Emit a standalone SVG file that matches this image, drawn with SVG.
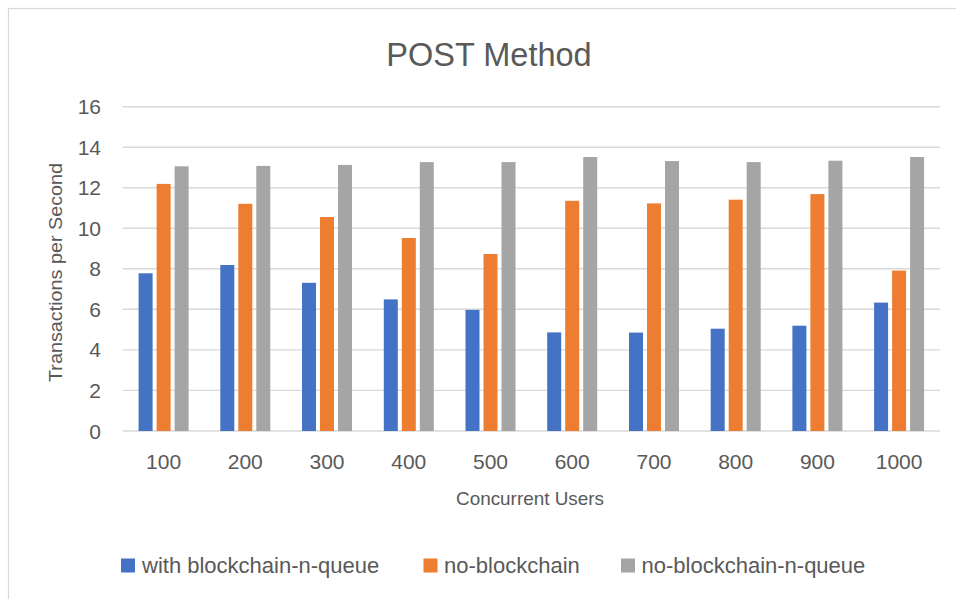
<svg xmlns="http://www.w3.org/2000/svg" width="956" height="599" viewBox="0 0 956 599">
<style>
  text { font-family: "Liberation Sans", Arial, sans-serif; fill: #595959; }
  .grid { stroke: #D9D9D9; stroke-width: 1.4; fill: none; }
  .ytick { font-size: 21px; text-anchor: end; }
  .xtick { font-size: 21px; text-anchor: middle; }
  .legend { font-size: 22px; }
  .s1 { fill: #4472C4; }
  .s2 { fill: #ED7D31; }
  .s3 { fill: #A5A5A5; }
</style>
<rect x="0" y="0" width="956" height="599" fill="#FFFFFF"/>
<rect x="8.5" y="8.5" width="960" height="610" fill="#FFFFFF" stroke="#D9D9D9" stroke-width="1.2"/>

<g id="title">
  <text x="489" y="66" font-size="32.5" text-anchor="middle">POST Method</text>
</g>

<g id="gridlines">
  <line class="grid" x1="122.7" y1="106.7" x2="940" y2="106.7"/>
  <line class="grid" x1="122.7" y1="147.2" x2="940" y2="147.2"/>
  <line class="grid" x1="122.7" y1="187.7" x2="940" y2="187.7"/>
  <line class="grid" x1="122.7" y1="228.3" x2="940" y2="228.3"/>
  <line class="grid" x1="122.7" y1="268.8" x2="940" y2="268.8"/>
  <line class="grid" x1="122.7" y1="309.3" x2="940" y2="309.3"/>
  <line class="grid" x1="122.7" y1="349.9" x2="940" y2="349.9"/>
  <line class="grid" x1="122.7" y1="390.4" x2="940" y2="390.4"/>
  <line class="grid" x1="122.7" y1="431" x2="940" y2="431"/>
</g>

<g id="y-axis">
  <text class="ytick" x="101" y="114.2">16</text>
  <text class="ytick" x="101" y="154.7">14</text>
  <text class="ytick" x="101" y="195.2">12</text>
  <text class="ytick" x="101" y="235.8">10</text>
  <text class="ytick" x="101" y="276.3">8</text>
  <text class="ytick" x="101" y="316.8">6</text>
  <text class="ytick" x="101" y="357.4">4</text>
  <text class="ytick" x="101" y="397.9">2</text>
  <text class="ytick" x="101" y="438.5">0</text>
  <text transform="translate(62,272.5) rotate(-90)" font-size="18" text-anchor="middle" textLength="219" lengthAdjust="spacingAndGlyphs">Transactions per Second</text>
</g>

<g id="x-axis">
  <text class="xtick" x="163.6" y="469.3">100</text>
  <text class="xtick" x="245.3" y="469.3">200</text>
  <text class="xtick" x="327.0" y="469.3">300</text>
  <text class="xtick" x="408.8" y="469.3">400</text>
  <text class="xtick" x="490.5" y="469.3">500</text>
  <text class="xtick" x="572.2" y="469.3">600</text>
  <text class="xtick" x="654.0" y="469.3">700</text>
  <text class="xtick" x="735.7" y="469.3">800</text>
  <text class="xtick" x="817.4" y="469.3">900</text>
  <text class="xtick" x="899.1" y="469.3">1000</text>
  <text x="530" y="505" font-size="18.5" text-anchor="middle" textLength="148" lengthAdjust="spacingAndGlyphs">Concurrent Users</text>
</g>

<g id="series-with-blockchain-n-queue">
  <rect class="s1" x="138.6" y="273.3" width="14" height="157.7"/>
  <rect class="s1" x="220.3" y="265.0" width="14" height="166.0"/>
  <rect class="s1" x="302.0" y="282.8" width="14" height="148.2"/>
  <rect class="s1" x="383.8" y="299.4" width="14" height="131.6"/>
  <rect class="s1" x="465.5" y="309.9" width="14" height="121.1"/>
  <rect class="s1" x="547.2" y="332.4" width="14" height="98.6"/>
  <rect class="s1" x="629.0" y="332.6" width="14" height="98.4"/>
  <rect class="s1" x="710.7" y="328.7" width="14" height="102.3"/>
  <rect class="s1" x="792.4" y="325.7" width="14" height="105.3"/>
  <rect class="s1" x="874.1" y="302.6" width="14" height="128.4"/>
</g>

<g id="series-no-blockchain">
  <rect class="s2" x="156.6" y="183.9" width="14" height="247.1"/>
  <rect class="s2" x="238.3" y="203.8" width="14" height="227.2"/>
  <rect class="s2" x="320.0" y="217.0" width="14" height="214.0"/>
  <rect class="s2" x="401.8" y="238.0" width="14" height="193.0"/>
  <rect class="s2" x="483.5" y="254.0" width="14" height="177.0"/>
  <rect class="s2" x="565.2" y="200.8" width="14" height="230.2"/>
  <rect class="s2" x="647.0" y="203.4" width="14" height="227.6"/>
  <rect class="s2" x="728.7" y="199.7" width="14" height="231.3"/>
  <rect class="s2" x="810.4" y="194.1" width="14" height="236.9"/>
  <rect class="s2" x="892.1" y="270.6" width="14" height="160.4"/>
</g>

<g id="series-no-blockchain-n-queue">
  <rect class="s3" x="174.6" y="166.3" width="14" height="264.7"/>
  <rect class="s3" x="256.3" y="165.9" width="14" height="265.1"/>
  <rect class="s3" x="338.0" y="164.9" width="14" height="266.1"/>
  <rect class="s3" x="419.8" y="162.1" width="14" height="268.9"/>
  <rect class="s3" x="501.5" y="162.1" width="14" height="268.9"/>
  <rect class="s3" x="583.2" y="157.0" width="14" height="274.0"/>
  <rect class="s3" x="665.0" y="161.1" width="14" height="269.9"/>
  <rect class="s3" x="746.7" y="162.1" width="14" height="268.9"/>
  <rect class="s3" x="828.4" y="160.7" width="14" height="270.3"/>
  <rect class="s3" x="910.1" y="157.0" width="14" height="274.0"/>
</g>

<g id="legend">
  <rect class="s1" x="121" y="558.5" width="14" height="14"/>
  <text class="legend" x="142" y="572.7">with blockchain-n-queue</text>
  <rect class="s2" x="423.5" y="558.5" width="14" height="14"/>
  <text class="legend" x="444" y="572.7">no-blockchain</text>
  <rect class="s3" x="621" y="558.5" width="14" height="14"/>
  <text class="legend" x="641.5" y="572.7">no-blockchain-n-queue</text>
</g>
</svg>
